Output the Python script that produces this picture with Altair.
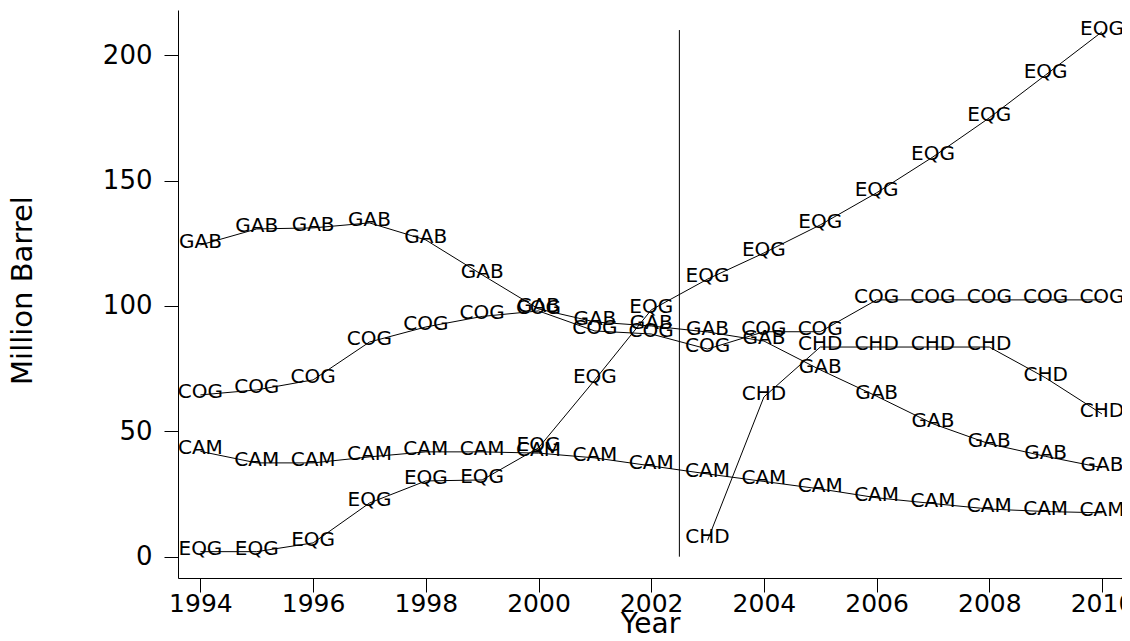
import altair as alt
import pandas as pd

years = list(range(1994, 2011))
gab = [124.3, 130.7, 131.1, 133.1, 126.3, 112.4, 98.8, 93.6, 92.0, 89.6, 86.0, 74.5, 64.0, 53.0, 45.0, 40.0, 35.5]
cog = [64.5, 66.5, 70.5, 85.6, 91.6, 95.8, 98.0, 90.0, 88.8, 82.8, 89.7, 89.7, 102.4, 102.4, 102.4, 102.4, 102.4]
cam = [42.0, 37.4, 37.4, 39.8, 41.8, 41.8, 41.3, 39.4, 36.2, 33.0, 30.0, 27.0, 23.5, 21.2, 19.0, 18.0, 17.5]
eqg = [2.0, 2.0, 5.5, 21.4, 30.2, 30.6, 43.4, 70.5, 98.4, 110.7, 121.1, 132.3, 145.1, 159.4, 175.0, 192.1, 209.3]
chd_years = list(range(2003, 2011))
chd = [6.5, 63.7, 83.6, 83.6, 83.6, 83.6, 71.3, 56.9]

vline_x = [2002.5]
vline_y = [0, 210]

x_ticks = [1994, 1996, 1998, 2000, 2002, 2004, 2006, 2008, 2010]
y_ticks = [0, 50, 100, 150, 200]

rows = []
for name, ys, vals in [("GAB", years, gab), ("COG", years, cog), ("CAM", years, cam),
                       ("EQG", years, eqg), ("CHD", chd_years, chd)]:
    for yr, v in zip(ys, vals):
        rows.append({"country": name, "year": yr, "value": v})
df = pd.DataFrame(rows)

vdf = pd.DataFrame({"x": vline_x, "y": [vline_y[0]], "y2": [vline_y[1]]})

FONT = "DejaVu Sans"

xscale = alt.Scale(domain=[1993.602, 2010.355], nice=False, zero=False)
yscale = alt.Scale(domain=[-8.5, 218], nice=False, zero=False)

xaxis = alt.Axis(values=x_ticks, format="d", title="Year", grid=False,
                 labelFontSize=25, labelFont=FONT, labelColor="black", labelPadding=-1,
                 tickSize=14, tickColor="black", domainColor="black",
                 titleFontSize=28, titleFont=FONT, titleFontWeight="normal", titleColor="black",
                 titleX=472, titleY=46, titleBaseline="middle", titleAlign="center")
yaxis = alt.Axis(values=y_ticks, format="d", title="Million Barrel", grid=False,
                 labelFontSize=26, labelFont=FONT, labelColor="black", labelPadding=12,
                 tickSize=14, tickColor="black", domainColor="black",
                 titleFontSize=29, titleFont=FONT, titleFontWeight="normal", titleColor="black",
                 titleX=-156, titleY=280, titleBaseline="middle", titleAlign="center", titleAngle=-90)

base = alt.Chart(df)

lines = base.mark_line(color="black", strokeWidth=1).encode(
    x=alt.X("year:Q", scale=xscale, axis=xaxis),
    y=alt.Y("value:Q", scale=yscale, axis=yaxis),
    detail="country:N",
)

labels = base.mark_text(font=FONT, fontSize=20, color="black", align="center",
                        baseline="middle", dy=-3).encode(
    x=alt.X("year:Q", scale=xscale),
    y=alt.Y("value:Q", scale=yscale),
    text="country:N",
)

vline = alt.Chart(vdf).mark_rule(color="black", strokeWidth=1).encode(
    x=alt.X("x:Q", scale=xscale),
    y=alt.Y("y:Q", scale=yscale),
    y2="y2:Q",
)

chart = alt.layer(lines, vline, labels).properties(
    width=944, height=568,
    background="white",
    autosize=alt.AutoSizeParams(type="none"),
    padding={"left": 170, "top": 2, "right": 0, "bottom": 55},
).configure_view(strokeWidth=0, stroke="transparent")

chart.save("out.html", embed_options={"renderer": "svg", "actions": False})
